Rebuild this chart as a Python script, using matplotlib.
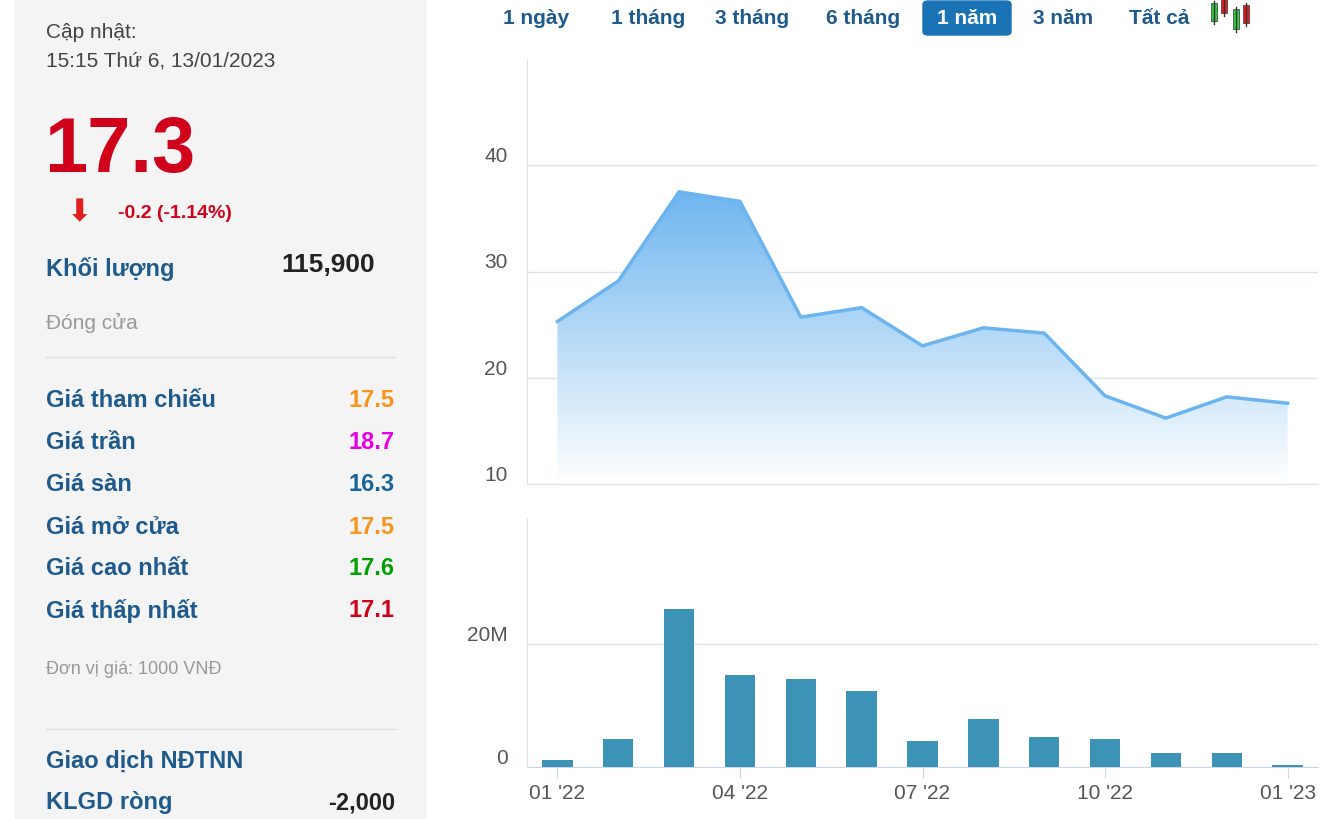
import matplotlib
matplotlib.use("Agg")
import matplotlib.pyplot as plt
from matplotlib.patches import Rectangle, FancyBboxPatch
import numpy as np

months = list(range(13))
tick_pos = [0, 3, 6, 9, 12]
tick_labels = ["01 '22", "04 '22", "07 '22", "10 '22", "01 '23"]
price = [25.3, 29.1, 37.5, 36.6, 25.7, 26.6, 23.0, 24.7, 24.2, 18.3, 16.2, 18.2, 17.6]
volume_m = [1.1, 4.5, 25.7, 15.0, 14.3, 12.4, 4.2, 7.8, 4.9, 4.5, 2.3, 2.3, 0.3]

info_labels = ["Giá tham chiếu", "Giá trần", "Giá sàn", "Giá mở cửa", "Giá cao nhất", "Giá thấp nhất"]
info_values = ["17.5", "18.7", "16.3", "17.5", "17.6", "17.1"]
info_colors = ["#f7941d", "#e600e6", "#1a6496", "#f7941d", "#00a000", "#d0021b"]
buttons = ["1 ngày", "1 tháng", "3 tháng", "6 tháng", "1 năm", "3 năm", "Tất cả"]

W, H = 1332, 820
fig = plt.figure(figsize=(W/100, H/100), dpi=100)
fig.patch.set_facecolor("white")
plt.rcParams['font.family'] = ['Liberation Sans', 'DejaVu Sans']

def fx(x): return x / W
def fy(y): return 1 - y / H

# left panel
fig.patches.append(Rectangle((fx(15), 0), fx(410), 1, transform=fig.transFigure, color="#f5f4f4", zorder=0))
blue = "#1e5a8c"
fig.text(fx(46), fy(32), "Cập nhật:", fontsize=15, color="#444", va="center")
fig.text(fx(46), fy(61), "15:15 Thứ 6, 13/01/2023", fontsize=15, color="#444", va="center")
fig.text(fx(44), fy(152), "17.3", fontsize=56, color="#d0021b", weight="bold", va="center")
fig.text(fx(80), fy(213), "⬇", fontsize=22, color="#e02020", va="center", ha="center")
fig.text(fx(118), fy(214), "-0.2 (-1.14%)", fontsize=14, color="#d0021b", weight="bold", va="center")
fig.text(fx(46), fy(269), "Khối lượng", fontsize=17, color=blue, weight="bold", va="center")
fig.text(fx(375), fy(265), "115,900", fontsize=19, color="#222", weight="bold", va="center", ha="right")
fig.text(fx(46), fy(323), "Đóng cửa", fontsize=15, color="#999", va="center")
fig.lines.append(plt.Line2D([fx(46), fx(395)], [fy(358)]*2, transform=fig.transFigure, color="#ddd", lw=1))
for i, (l, v, c) in enumerate(zip(info_labels, info_values, info_colors)):
    y = 401 + i * 42
    fig.text(fx(46), fy(y), l, fontsize=17, color=blue, weight="bold", va="center")
    fig.text(fx(395), fy(y), v, fontsize=17, color=c, weight="bold", va="center", ha="right")
fig.text(fx(46), fy(670), "Đơn vị giá: 1000 VNĐ", fontsize=13, color="#999", va="center")
fig.lines.append(plt.Line2D([fx(46), fx(395)], [fy(730)]*2, transform=fig.transFigure, color="#ddd", lw=1))
fig.text(fx(46), fy(761), "Giao dịch NĐTNN", fontsize=17, color=blue, weight="bold", va="center")
fig.text(fx(46), fy(803), "KLGD ròng", fontsize=17, color=blue, weight="bold", va="center")
fig.text(fx(395), fy(803), "-2,000", fontsize=17, color="#222", weight="bold", va="center", ha="right")

# buttons
bx = [536, 648, 752, 863, 967, 1063, 1159]
for x, b in zip(bx, buttons):
    if b == "1 năm":
        fig.patches.append(FancyBboxPatch((fx(923), fy(36)), fx(88), fy(0)-fy(34), boxstyle="round,pad=0,rounding_size=0.004",
                                          transform=fig.transFigure, color="#1a73b5"))
        fig.text(fx(x), fy(19), b, fontsize=15, color="white", weight="bold", va="center", ha="center")
    else:
        fig.text(fx(x), fy(19), b, fontsize=15, color=blue, weight="bold", va="center", ha="center")
# candle icon
for cx, top, bot, col in [(1214, 4, 22, "#2ecc40"), (1224, 0, 14, "#e02020"), (1236, 10, 30, "#2ecc40"), (1246, 6, 24, "#e02020")]:
    fig.lines.append(plt.Line2D([fx(cx)]*2, [fy(bot+3), fy(top-2)], transform=fig.transFigure, color="#333", lw=1))
    fig.patches.append(Rectangle((fx(cx-3), fy(bot)), fx(6), fy(top)-fy(bot), transform=fig.transFigure, color=col, ec="#333", lw=0.5))

# price axes
ax1 = fig.add_axes([fx(527), fy(485), fx(1318-527), fy(60)-fy(485)])
ax1.set_xlim(-0.5, 12.5)
ax1.set_ylim(10, 50)
ax1.plot(months, price, color="#6cb4ef", lw=2.5, zorder=3)
poly = ax1.fill_between(months, price, 10, color="none")
grad = np.linspace(1, 0, 256).reshape(-1, 1)
from matplotlib.colors import LinearSegmentedColormap
cmap = LinearSegmentedColormap.from_list("g", ["#ffffff", "#6cb4ef"])
im = ax1.imshow(grad, extent=[-0.5, 12.5, 10, 38], aspect="auto", cmap=cmap, origin="upper", zorder=2, vmin=0, vmax=1)
im.set_clip_path(poly.get_paths()[0], transform=ax1.transData)
ax1.set_yticks([10, 20, 30, 40])
ax1.grid(axis="y", color="#dde3ea", lw=1)
ax1.set_xticks([])
for s in ["top", "right", "bottom"]:
    ax1.spines[s].set_visible(False)
ax1.spines["left"].set_color("#dde3ea")
ax1.spines["bottom"].set_visible(True); ax1.spines["bottom"].set_color("#dde3ea")
ax1.tick_params(axis="y", length=0, labelsize=15, labelcolor="#555", pad=14)
for t in ax1.get_yticklabels():
    t.set_verticalalignment("bottom")

# volume axes
ax2 = fig.add_axes([fx(527), fy(768), fx(1318-527), fy(519)-fy(768)])
ax2.set_xlim(-0.5, 12.5)
ax2.set_ylim(0, 40.5)
ax2.bar(months, volume_m, width=0.5, color="#3d93b5", zorder=3)
ax2.set_yticks([0, 20])
ax2.set_yticklabels(["0", "20M"])
ax2.grid(axis="y", color="#dde3ea", lw=1)
ax2.set_xticks(tick_pos)
ax2.set_xticklabels(tick_labels)
for s in ["top", "right"]:
    ax2.spines[s].set_visible(False)
ax2.spines["left"].set_color("#dde3ea")
ax2.spines["bottom"].set_color("#ccd6eb")
ax2.tick_params(axis="y", length=0, labelsize=15, labelcolor="#555", pad=14)
ax2.tick_params(axis="x", length=8, color="#ccd6eb", labelsize=15, labelcolor="#555")
for t in ax2.get_yticklabels():
    t.set_verticalalignment("bottom")

fig.savefig("out.png", dpi=100)
